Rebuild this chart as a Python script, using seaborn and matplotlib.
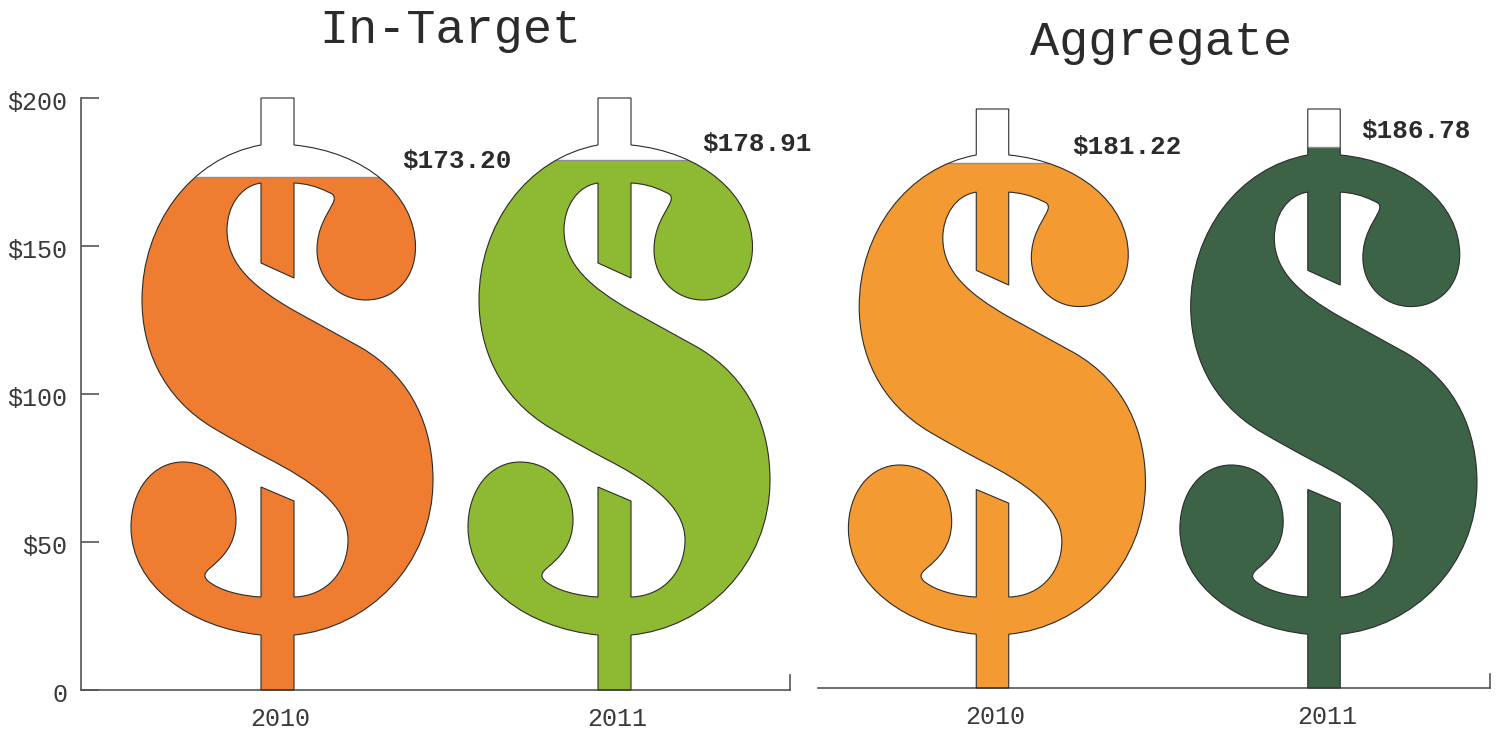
import matplotlib
matplotlib.use("Agg")
import matplotlib.pyplot as plt
from matplotlib.path import Path
from matplotlib.patches import PathPatch
from matplotlib.transforms import ScaledTranslation
import numpy as np
import seaborn as sns

years = ["2010", "2011"]
in_target = [173.20, 178.91]
aggregate = [181.22, 186.78]
y_ticks = [0, 50, 100, 150, 200]
y_labels = ["0", "$50", "$100", "$150", "$200"]
in_target_colors = ["#EF7D31", "#8DB933"]
aggregate_colors = ["#F39A33", "#3D6346"]

#outline of the dollar sign traced in pixels, 2 values = straight line, 6 = bezier
#it is only the mask for the bars, the bar heights come from the lists above
glyph_start = (261, 98)
glyph = [
    (294, 98), (294, 145),
    (365, 152, 415.5, 195, 415.5, 247),
    (415.5, 280, 393, 300, 366, 300),
    (338, 300, 317, 278, 317, 250),
    (317, 228, 327, 215, 332, 205),
    (337, 196, 333, 194, 328, 192),
    (316, 186, 305, 183.5, 294, 183),
    (294, 278), (261, 263), (261, 183),
    (240, 186, 227, 207, 227, 230),
    (227, 265, 255, 288, 293, 310),
    (315, 322, 338, 335, 360, 347),
    (414, 378, 433, 430, 433, 480),
    (433, 565, 368, 628, 294, 635),
    (294, 690), (261, 690), (261, 635),
    (190, 628, 131, 585, 131, 527),
    (131, 490, 153, 462, 183, 462),
    (214, 462, 236, 487, 236, 520),
    (236, 545, 222, 558, 210, 568),
    (203, 574, 204, 577, 208, 581),
    (220, 591, 242, 596, 261, 597),
    (261, 487), (294, 501), (294, 597),
    (328, 596, 348, 570, 348, 540),
    (348, 505, 310, 480, 267, 458),
    (250, 449, 232, 439, 215, 429),
    (160, 397, 142, 345, 142, 300),
    (142, 225, 190, 158, 261, 145),
]

verts = [glyph_start]
codes = [Path.MOVETO]
for seg in glyph:
    if len(seg) == 2:
        verts.append(seg)
        codes.append(Path.LINETO)
    else:
        verts += [seg[0:2], seg[2:4], seg[4:6]]
        codes += [Path.CURVE4]*3
verts.append(glyph_start)
codes.append(Path.CLOSEPOLY)
verts = np.array(verts, dtype=float)
#pixels to axis units: bar centre is 277.5, bars 337 apart, 592 pixels is $200
verts = np.column_stack([(verts[:, 0] - 277.5) / 337, (690 - verts[:, 1]) * 200 / 592])

def dollarPath(i):
    return Path(verts + [i, 0], codes)

sns.set_theme(style="white")
plt.rcParams['font.family'] = ['Liberation Mono', 'DejaVu Sans Mono']
ink = "#3a3a3a"

fig = plt.figure(figsize=(15, 7.3), dpi=100)

def axesFromPixels(left, right, top, bottom):
    return fig.add_axes([left/1500, (730-bottom)/730, (right-left)/1500, (bottom-top)/730])

#quick function so both panels are made the same way
def dollarPanel(ax, values, colors, label_dx):
    sns.barplot(x=years, y=values, hue=years, palette=colors, width=1.0, saturation=1,
                legend=False, ax=ax, edgecolor="#8f8f8f", linewidth=1.0)
    for i, bar in enumerate(ax.patches[:len(values)]):
        bar.set_clip_path(dollarPath(i), ax.transData)
        ax.add_patch(PathPatch(dollarPath(i), facecolor="none", edgecolor="#2b2b2b",
                               linewidth=0.8, clip_on=False, zorder=5))
        ax.annotate(f"${values[i]:.2f}", xy=(i, values[i]), xytext=(label_dx[i], 16),
                    textcoords="offset pixels", fontsize=18.7, fontweight="bold", color="#2b2b2b",
                    va="center", ha="left", parse_math=False, annotation_clip=False)
    ax.set_ylim(0, 200)
    ax.set_xlabel("")
    ax.set_ylabel("")
    ax.spines["top"].set_visible(False)
    ax.spines["bottom"].set_color("#555555")
    ax.spines["bottom"].set_linewidth(1.2)
    ax.spines["right"].set_color("#555555")
    ax.spines["right"].set_linewidth(1.2)
    ax.spines["right"].set_bounds(0, 5)
    ax.tick_params(axis="x", length=0, pad=12, labelsize=18, labelcolor=ink)
    shift = ScaledTranslation(3/100, 0, fig.dpi_scale_trans)
    for lab in ax.get_xticklabels():
        lab.set_transform(lab.get_transform() + shift)

ax1 = axesFromPixels(81, 790, 98, 690)
dollarPanel(ax1, in_target, in_target_colors, [125, 88])
ax1.set_xlim(-(277.5-81)/337, (790-277.5)/337)
ax1.set_yticks(y_ticks)
ax1.set_yticklabels(y_labels, parse_math=False)
ax1.spines["left"].set_color("#555555")
ax1.spines["left"].set_linewidth(1.2)
ax1.tick_params(axis="y", direction="in", left=True, length=13, width=1.2, color="#555555",
                pad=10, labelsize=18, labelcolor=ink)
#labels sit a little under their ticks in the original
down = ScaledTranslation(0, -3/100, fig.dpi_scale_trans)
for lab in ax1.get_yticklabels():
    lab.set_transform(lab.get_transform() + down)

ax2 = axesFromPixels(818, 1490, 109, 688)
dollarPanel(ax2, aggregate, aggregate_colors, [80, 37])
ax2.set_xlim(-(992.5-818)/331.5, (1490-992.5)/331.5)
ax2.set_yticks([])
ax2.spines["left"].set_visible(False)

fig.text(450/1500, (730-43)/730, "In-Target", fontsize=35, color="#2b2b2b", ha="center", va="baseline")
fig.text(1161/1500, (730-55)/730, "Aggregate", fontsize=35, color="#2b2b2b", ha="center", va="baseline")

plt.savefig("out.png", dpi=100, facecolor="white")
